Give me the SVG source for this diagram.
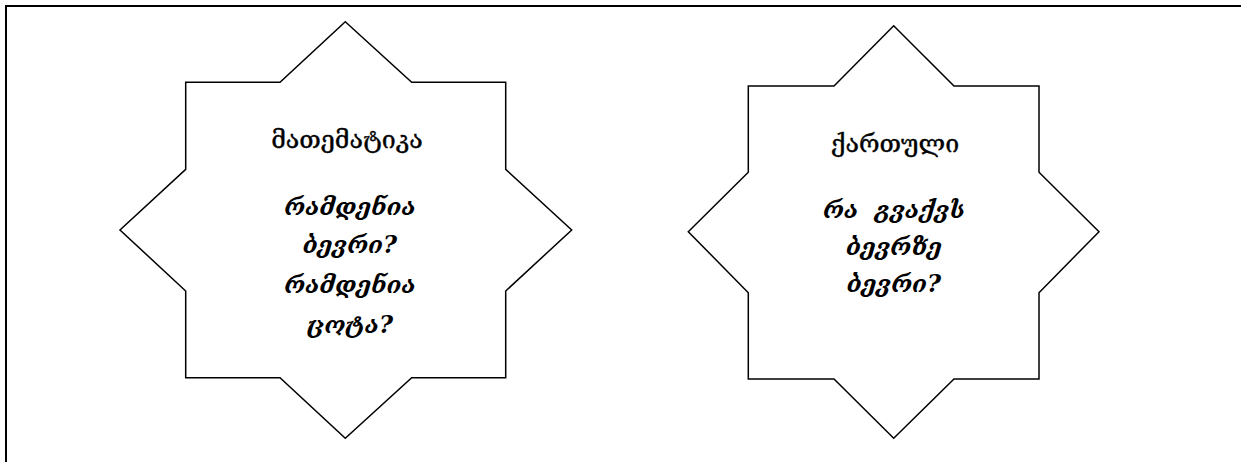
<svg xmlns="http://www.w3.org/2000/svg" width="1241" height="462" viewBox="0 0 1241 462">
<style>
.frame{fill:none;stroke:#000;stroke-width:2}
.star{fill:#fff;stroke:#000;stroke-width:1.5;stroke-linejoin:miter}
.t{font-family:"DejaVu Serif",serif;font-size:25px;fill:#000;text-anchor:middle;stroke:#000;stroke-width:0.4}
.b{font-family:"DejaVu Serif",serif;font-size:24px;font-style:italic;font-weight:bold;fill:#000;text-anchor:middle}
</style>
<rect width="1241" height="462" fill="#fff"/>
<rect class="frame" x="6" y="6" width="1260" height="480"/>
<g id="star-math">
<polygon class="star" points="345.3,21.7 411.7,82.3 505.7,82.3 505.7,169.3 571.7,230 505.7,291 505.7,377.7 411.7,377.7 345.3,438.3 280,377.7 185.7,377.7 185.7,291 120,230 185.7,169.3 185.7,82.3 280,82.3"/>
<text class="t" x="347" y="148">მათემატიკა</text>
<text class="b" x="350" y="215">რამდენია</text>
<text class="b" x="350" y="253">ბევრი?</text>
<text class="b" x="350" y="293">რამდენია</text>
<text class="b" x="350" y="333">ცოტა?</text>
</g>
<g id="star-geo">
<polygon class="star" points="893.7,25.7 954,86 1039,86 1039,172.3 1099,231.7 1039,292.7 1039,379 954,379 893.7,438.3 834,379 748.3,379 748.3,292.7 688.3,231.7 748.3,172.3 748.3,86 834,86"/>
<text class="t" x="895" y="152">ქართული</text>
<text class="b" x="894" y="218" xml:space="preserve">რა  გვაქვს</text>
<text class="b" x="894" y="255">ბევრზე</text>
<text class="b" x="894" y="292">ბევრი?</text>
</g>
<g id="connectors"/>
</svg>
